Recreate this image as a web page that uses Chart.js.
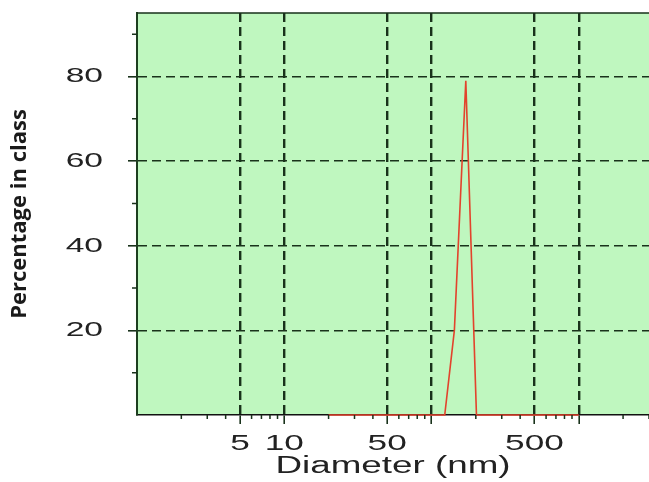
<!DOCTYPE html>
<html>
<head>
<meta charset="utf-8">
<title>Percentage in class vs diameter</title>
<script src="https://cdn.jsdelivr.net/npm/chart.js@4.4.1/dist/chart.umd.min.js"></script>
<style>
  html, body { margin: 0; padding: 0; background: #fff; }
</style>
</head>
<body>
<canvas id="sizeChart" width="649" height="482"></canvas>
<script>
var diameters = [20, 123, 143, 171, 202, 1000];
var percents = [0, 0, 20, 79, 0, 0];

var xGridTicks = [5, 10, 50, 100, 500, 1000];
var xLabelTicks = [5, 10, 50, 500];
var xMinorTicks = [2, 3, 4, 6, 7, 8, 9, 20, 30, 40, 60, 70, 80, 90, 200, 300, 400, 600, 700, 800, 900, 2000, 3000];
var yGridTicks = [20, 40, 60, 80];
var yMinorTicks = [10, 30, 50, 70, 90];

var xTitle = 'Diameter (nm)';
var yTitle = 'Percentage in class';

var plotGreen = '#bff7bf';
var gridDark = '#19321b';
var textStretch = 1.6; // the source picture has horizontally stretched digits

(function() {
  var framePlugin = {
    id: 'framePlugin',
    beforeInit: function(chart) {
      var ctx = chart.ctx;
      var plainFill = ctx.fillText;
      ctx.fillText = function(t, x, y, w) {
        if (/bold/.test(this.font)) return plainFill.call(this, t, x, y, w);
        this.save();
        this.translate(x, y);
        this.scale(textStretch, 1);
        plainFill.call(this, t, 0, 0, w);
        this.restore();
      };
    },
    beforeDraw: function(chart) {
      var a = chart.chartArea, ctx = chart.ctx;
      ctx.save();
      ctx.fillStyle = plotGreen;
      ctx.fillRect(a.left, a.top, a.right - a.left, a.bottom - a.top);
      ctx.restore();
    },
    afterDraw: function(chart) {
      var a = chart.chartArea, ctx = chart.ctx;
      var xs = chart.scales.x, ys = chart.scales.y;
      ctx.save();
      ctx.strokeStyle = gridDark;
      ctx.lineWidth = 1.5;
      ctx.beginPath();
      xMinorTicks.forEach(function(v) {
        var px = xs.getPixelForValue(v);
        if (px > a.right) return;
        ctx.moveTo(px, a.bottom);
        ctx.lineTo(px, a.bottom + 4);
      });
      yMinorTicks.forEach(function(v) {
        var py = ys.getPixelForValue(v);
        ctx.moveTo(a.left - 5, py);
        ctx.lineTo(a.left, py);
      });
      ctx.moveTo(a.left, a.top);
      ctx.lineTo(a.right, a.top);
      ctx.stroke();
      ctx.restore();
    }
  };

  var ctx = document.getElementById('sizeChart').getContext('2d');
  new Chart(ctx, {
    type: 'line',
    data: {
      datasets: [{
        label: yTitle,
        data: diameters.map(function(d, i) { return { x: d, y: percents[i] }; }),
        borderColor: '#e2432c',
        borderWidth: 1.6,
        pointRadius: 0,
        tension: 0,
        fill: false,
        clip: false
      }]
    },
    options: {
      responsive: false,
      animation: false,
      layout: { padding: { top: 13, right: 0, bottom: 0, left: 0 } },
      plugins: { legend: { display: false }, tooltip: { enabled: false } },
      scales: {
        x: {
          type: 'logarithmic',
          min: 1,
          max: 3000,
          afterBuildTicks: function(scale) {
            scale.ticks = xGridTicks.map(function(v) { return { value: v }; });
          },
          afterFit: function(scale) {
            scale.height = 67;
            scale.paddingLeft = 0;
            scale.paddingRight = 0;
          },
          ticks: {
            autoSkip: false,
            maxRotation: 0,
            padding: 7,
            color: '#222',
            font: { family: 'Liberation Sans', size: 22 },
            callback: function(v) { return xLabelTicks.indexOf(v) >= 0 ? String(v) : ''; }
          },
          grid: {
            color: gridDark,
            lineWidth: 2.4,
            drawTicks: true,
            tickLength: 9,
            tickColor: gridDark,
            tickWidth: 1.6
          },
          border: { display: true, color: '#111', width: 1.6, dash: [9, 5] },
          title: {
            display: true,
            text: xTitle,
            color: '#222',
            font: { family: 'Liberation Sans', size: 23 },
            padding: { top: 0, bottom: 2 }
          }
        },
        y: {
          min: 0,
          max: 95,
          afterBuildTicks: function(scale) {
            scale.ticks = yGridTicks.map(function(v) { return { value: v }; });
          },
          afterFit: function(scale) {
            scale.width = 137;
            scale.paddingTop = 0;
            scale.paddingBottom = 0;
          },
          ticks: {
            padding: 25,
            color: '#222',
            font: { family: 'Liberation Sans', size: 21 }
          },
          grid: {
            color: gridDark,
            lineWidth: 1.6,
            drawTicks: true,
            tickLength: 9,
            tickColor: gridDark,
            tickWidth: 1.6
          },
          border: { display: true, color: '#1d3f1f', width: 2, dash: [9, 5] },
          title: {
            display: true,
            text: yTitle,
            color: '#1a1a1a',
            font: { family: 'Open Sans', size: 22, weight: 'bold' },
            padding: { top: 7, bottom: 0 }
          }
        }
      }
    },
    plugins: [framePlugin]
  });
})();
</script>
</body>
</html>
